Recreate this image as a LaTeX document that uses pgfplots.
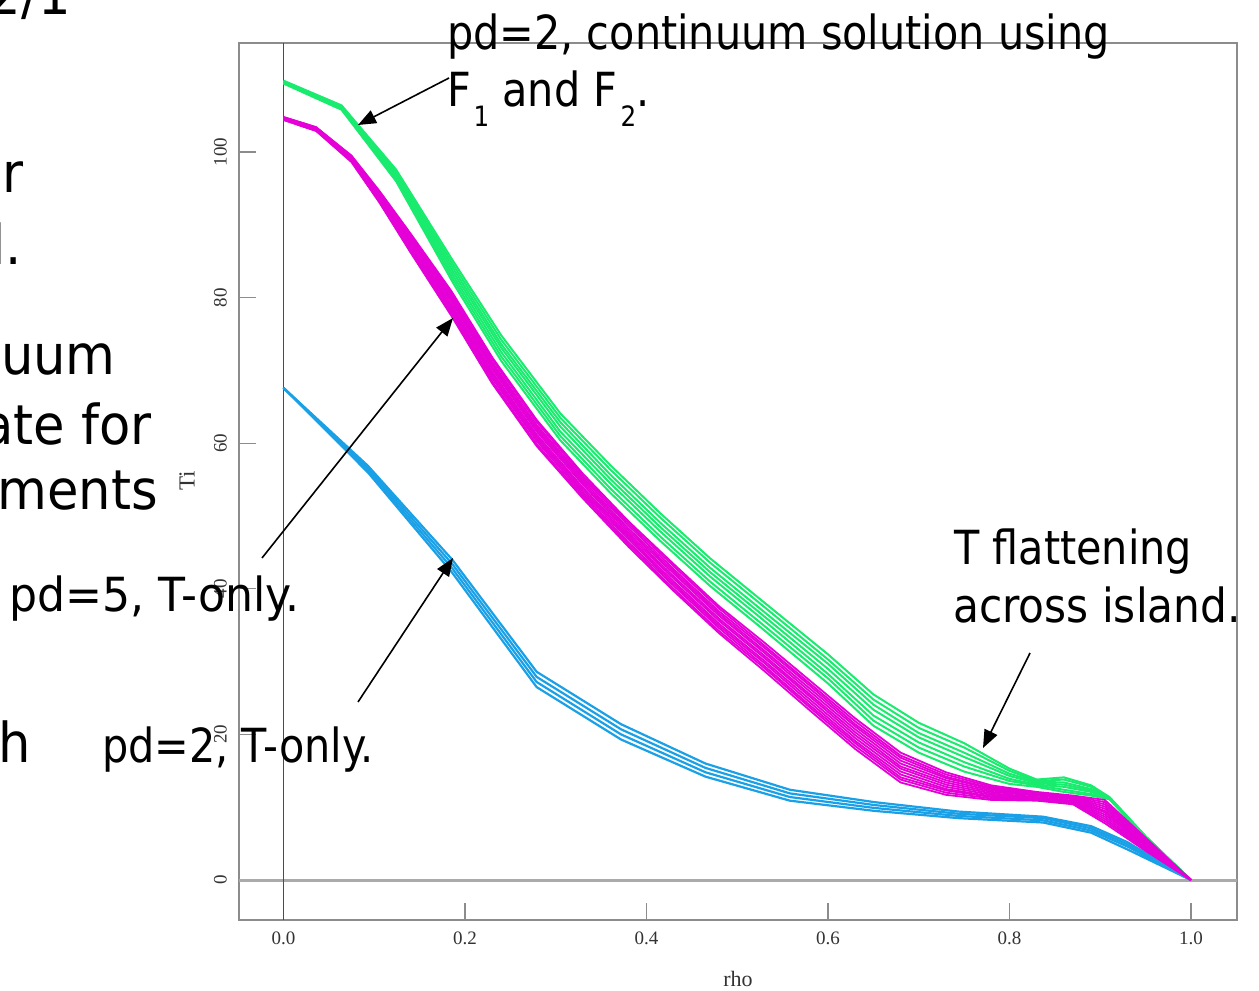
\documentclass[border=0pt]{standalone}
\usepackage{graphicx}
\usepackage{fontspec}
\usepackage{pgfplots}
\usepackage{pgfplotstable}
\pgfplotsset{compat=1.18}
\usetikzlibrary{arrows.meta}
\newfontfamily\ann{DejaVu Sans}
\newfontfamily\serif{Liberation Serif}
\newcommand\anntext[2][0.88]{{\ann\fontsize{47}{47}\selectfont\scalebox{#1}[1]{#2}}}
\newcommand\bigtext[1]{{\ann\fontsize{55}{55}\selectfont\scalebox{0.93}[1]{#1}}}
\definecolor{cgreen}{RGB}{25,235,110}
\definecolor{cmag}{RGB}{228,0,215}
\definecolor{cblue}{RGB}{25,160,230}
\definecolor{framegray}{RGB}{140,140,140}
\definecolor{zerogray}{RGB}{170,170,170}

\pgfplotstableread{
x      l1    l2    l3    l4
0      67.6  67.6  67.6  67.6
0.093  56.9  56.6  56.3  56.0
0.186  44.0  43.4  42.8  42.2
0.279  28.6  27.9  27.2  26.5
0.372  21.4  20.7  20.0  19.3
0.465  16.0  15.4  14.8  14.2
0.558  12.4  11.9  11.4  10.9
0.651  10.7  10.3  9.9   9.5
0.744  9.4   9.1   8.8   8.5
0.837  8.7   8.5   8.2   7.9
0.89   7.4   7.1   6.8   6.5
0.93   5.2   4.9   4.6   4.2
1.0    0     0     0     0
}\bluetab

\pgfplotstableread{
x     g1    g2    g3    g4    g5    g6    g7
0     109.8 109.7 109.7 109.6 109.5 109.5 109.4
0.064 106.4 106.3 106.2 106.1 106.0 105.9 105.8
0.124 97.6  97.3  97.1  96.8  96.5  96.3  96.0
0.187 85.0  84.5  84.0  83.5  83.0  82.5  82.0
0.24  74.8  74.2  73.6  73.1  72.5  71.9  71.3
0.305 64.1  63.5  62.9  62.3  61.6  61.0  60.4
0.36  57.0  56.4  55.7  55.1  54.5  53.8  53.2
0.415 50.4  49.8  49.1  48.5  47.9  47.2  46.6
0.47  44.2  43.6  42.9  42.3  41.7  41.0  40.4
0.525 38.6  38.0  37.3  36.7  36.1  35.4  34.8
0.6   31.0  30.3  29.7  29.0  28.3  27.7  27.0
0.65  25.5  24.8  24.1  23.4  22.6  21.9  21.2
0.70  21.6  20.9  20.2  19.6  18.9  18.2  17.5
0.75  18.8  18.2  17.5  16.9  16.2  15.6  14.9
0.80  15.3  15.0  14.6  14.3  13.9  13.6  13.2
0.83  13.8  13.6  13.5  13.3  13.1  13.0  12.8
0.86  14.1  13.8  13.4  13.1  12.8  12.4  12.1
0.89  13.0  12.8  12.5  12.3  12.1  11.8  11.6
0.91  11.4  11.4  11.3  11.3  11.2  11.2  11.1
0.95  6.0   6.0   5.9   5.9   5.9   5.8   5.8
1.0   0     0     0     0     0     0     0
}\greentab

\pgfplotstableread{
x     m1    m2    m3    m4    m5    m6    m7    m8    m9    m10   m11   m12
0     104.8 104.8 104.7 104.7 104.7 104.6 104.6 104.5 104.5 104.5 104.4 104.4
0.036 103.4 103.4 103.3 103.3 103.2 103.2 103.1 103.1 103.0 103.0 102.9 102.9
0.075 99.5  99.4  99.3  99.3  99.2  99.1  99.0  98.9  98.8  98.8  98.7  98.6
0.106 94.6  94.5  94.3  94.2  94.0  93.9  93.7  93.6  93.4  93.3  93.1  93.0
0.14  88.8  88.6  88.3  88.1  87.9  87.6  87.4  87.1  86.9  86.7  86.4  86.2
0.185 80.9  80.6  80.3  80.0  79.7  79.4  79.0  78.7  78.4  78.1  77.8  77.5
0.23  71.8  71.5  71.1  70.8  70.5  70.2  69.8  69.5  69.2  68.9  68.5  68.2
0.279 63.2  62.9  62.5  62.2  61.9  61.6  61.2  60.9  60.6  60.3  59.9  59.6
0.33  55.8  55.5  55.2  54.9  54.6  54.3  53.9  53.6  53.3  53.0  52.7  52.4
0.38  49.3  49.0  48.7  48.3  48.0  47.7  47.4  47.1  46.8  46.4  46.1  45.8
0.43  43.4  43.1  42.7  42.4  42.1  41.7  41.4  41.0  40.7  40.4  40.0  39.7
0.48  37.6  37.3  36.9  36.6  36.3  35.9  35.6  35.2  34.9  34.6  34.2  33.9
0.53  32.6  32.2  31.9  31.5  31.2  30.8  30.5  30.1  29.8  29.4  29.1  28.7
0.58  27.4  27.0  26.7  26.3  25.9  25.5  25.2  24.8  24.4  24.0  23.7  23.3
0.63  22.2  21.8  21.4  21.1  20.7  20.3  19.9  19.5  19.1  18.8  18.4  18.0
0.68  17.5  17.1  16.8  16.4  16.0  15.6  15.3  14.9  14.5  14.1  13.8  13.4
0.73  14.8  14.5  14.2  14.0  13.7  13.4  13.1  12.8  12.5  12.3  12.0  11.7
0.78  13.0  12.8  12.6  12.5  12.3  12.1  11.9  11.7  11.5  11.4  11.2  11.0
0.83  12.1  12.0  11.9  11.8  11.7  11.6  11.4  11.3  11.2  11.1  11.0  10.9
0.87  11.6  11.5  11.4  11.3  11.2  11.1  10.9  10.8  10.7  10.6  10.5  10.4
0.905 11.0  10.7  10.4  10.1  9.8   9.5   9.3   9.0   8.7   8.4   8.1   7.8
0.95  5.8   5.6   5.5   5.3   5.2   5.0   4.8   4.7   4.5   4.3   4.2   4.0
1.0   0     0     0     0     0     0     0     0     0     0     0     0
}\magtab

\begin{document}
\begin{tikzpicture}[x=1pt,y=1pt]
\useasboundingbox (0,0) rectangle (1259,991);
\fill[white] (0,0) rectangle (1259,991);
\begin{axis}[
  at={(239pt,71pt)}, anchor=south west,
  scale only axis, width=998pt, height=877pt,
  xmin=-0.049, xmax=1.0507, ymin=-5.49, ymax=114.97,
  axis line style={draw=framegray, line width=1.5pt},
  xtick={0,0.2,0.4,0.6,0.8,1}, xticklabels={0.0,0.2,0.4,0.6,0.8,1.0},
  ytick={0,20,40,60,80,100}, yticklabels={0,20,40,60,80,100},
  xtick pos=lower, ytick pos=left,
  tick align=inside, major tick length=17pt,
  tick style={draw=framegray, line width=1.3pt},
  ticklabel style={font=\serif\fontsize{19}{19}\selectfont, text=black!80},
  xticklabel style={inner sep=0pt, anchor=north}, xticklabel shift=12pt,
  yticklabel style={rotate=90, anchor=south, inner sep=0pt}, yticklabel shift=12pt,
]
\draw[zerogray, line width=3pt] (axis cs:-0.049,0) -- (axis cs:1.0507,0);
\draw[black!70, line width=1.2pt] (axis cs:0,-5.49) -- (axis cs:0,114.97);
\addplot[cblue, line width=2.2pt] table[x=x,y=l1]{\bluetab};
\addplot[cblue, line width=2.2pt] table[x=x,y=l2]{\bluetab};
\addplot[cblue, line width=2.2pt] table[x=x,y=l3]{\bluetab};
\addplot[cblue, line width=2.2pt] table[x=x,y=l4]{\bluetab};
\addplot[cgreen, line width=2pt] table[x=x,y=g1]{\greentab};
\addplot[cgreen, line width=2pt] table[x=x,y=g2]{\greentab};
\addplot[cgreen, line width=2pt] table[x=x,y=g3]{\greentab};
\addplot[cgreen, line width=2pt] table[x=x,y=g4]{\greentab};
\addplot[cgreen, line width=2pt] table[x=x,y=g5]{\greentab};
\addplot[cgreen, line width=2pt] table[x=x,y=g6]{\greentab};
\addplot[cgreen, line width=2pt] table[x=x,y=g7]{\greentab};
\addplot[cmag, line width=1.8pt] table[x=x,y=m1]{\magtab};
\addplot[cmag, line width=1.8pt] table[x=x,y=m2]{\magtab};
\addplot[cmag, line width=1.8pt] table[x=x,y=m3]{\magtab};
\addplot[cmag, line width=1.8pt] table[x=x,y=m4]{\magtab};
\addplot[cmag, line width=1.8pt] table[x=x,y=m5]{\magtab};
\addplot[cmag, line width=1.8pt] table[x=x,y=m6]{\magtab};
\addplot[cmag, line width=1.8pt] table[x=x,y=m7]{\magtab};
\addplot[cmag, line width=1.8pt] table[x=x,y=m8]{\magtab};
\addplot[cmag, line width=1.8pt] table[x=x,y=m9]{\magtab};
\addplot[cmag, line width=1.8pt] table[x=x,y=m10]{\magtab};
\addplot[cmag, line width=1.8pt] table[x=x,y=m11]{\magtab};
\addplot[cmag, line width=1.8pt] table[x=x,y=m12]{\magtab};
\end{axis}
% axis titles
\node[anchor=base, inner sep=0pt, text=black!80] at (738,4) {\serif\fontsize{22}{22}\selectfont rho};
\node[rotate=90, inner sep=0pt, text=black!80] at (187,510) {\serif\fontsize{23}{23}\selectfont Ti};
% slide text on the left
\node[anchor=base east, inner sep=0pt] at (71,976) {\bigtext{2/1}};
\node[anchor=base east, inner sep=0pt] at (24,798) {\bigtext{r}};
\node[anchor=base east, inner sep=0pt] at (22,726) {\bigtext{l.}};
\node[anchor=base east, inner sep=0pt] at (116,616) {\bigtext{uum}};
\node[anchor=base east, inner sep=0pt] at (152,546) {\bigtext{ate for}};
\node[anchor=base east, inner sep=0pt] at (158,481) {\bigtext{ments}};
\node[anchor=base east, inner sep=0pt] at (31,228) {\bigtext{h}};
% annotations
\node[anchor=base west, inner sep=0pt] at (447,941) {\anntext{pd=2, continuum solution using}};
\node[anchor=base west, inner sep=0pt] at (447,884) {\anntext{F\kern3pt\raisebox{-20pt}{\fontsize{28}{28}\selectfont 1} and F\kern4pt\raisebox{-20pt}{\fontsize{28}{28}\selectfont 2}.}};
\node[anchor=base west, inner sep=0pt] at (9,379) {\anntext[0.94]{pd=5, T-only.}};
\node[anchor=base west, inner sep=0pt] at (102,228) {\anntext{pd=2, T-only.}};
\node[anchor=base west, inner sep=0pt] at (954,426) {\anntext{T flattening}};
\node[anchor=base west, inner sep=0pt] at (953,368) {\anntext[0.9]{across island.}};
% arrows
\draw[line width=1.6pt, -{Triangle[length=18pt,width=14pt]}] (449,913) -- (358,866);
\draw[line width=1.6pt, -{Triangle[length=18pt,width=14pt]}] (262,433) -- (453,673);
\draw[line width=1.6pt, -{Triangle[length=18pt,width=14pt]}] (358,289) -- (453,433);
\draw[line width=1.6pt, -{Triangle[length=18pt,width=14pt]}] (1030,338) -- (983,243);
\end{tikzpicture}
\end{document}
